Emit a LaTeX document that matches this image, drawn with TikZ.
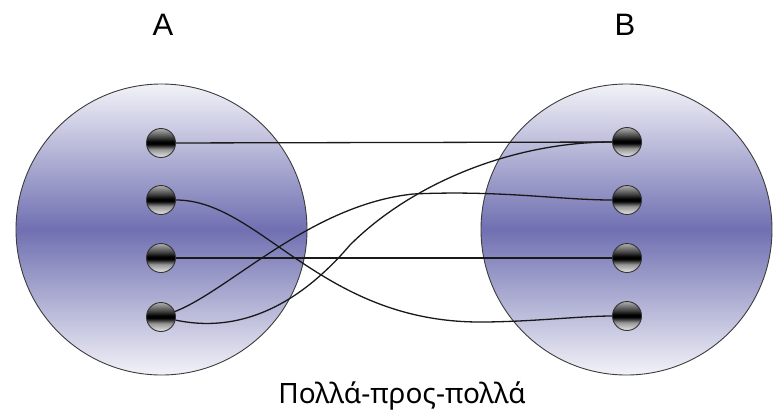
\documentclass[tikz,border=0pt]{standalone}
\usepackage{fontspec}
\setmainfont{Liberation Sans}
\newfontfamily\greekfont{Noto Sans}
\definecolor{setlight}{HTML}{F2F2F8}
\definecolor{setmid}{HTML}{7070B2}
\definecolor{dotbot}{HTML}{E8E8E8}
\definecolor{dotlow}{HTML}{959595}
\definecolor{dotup}{HTML}{4A4A4A}
\definecolor{dottop}{HTML}{B0B0B0}
\definecolor{rimcol}{HTML}{3C3C3C}
\pgfdeclareverticalshading{setshade}{100bp}{color(0bp)=(setlight); color(25bp)=(setlight); color(50bp)=(setmid); color(75bp)=(setlight); color(100bp)=(setlight)}
\pgfdeclareverticalshading{dotshade}{100bp}{color(0bp)=(dotbot); color(25bp)=(dotbot); color(39bp)=(dotlow); color(48bp)=(black); color(52bp)=(black); color(61bp)=(dotup); color(75bp)=(dottop); color(100bp)=(dottop)}
\begin{document}
\begin{tikzpicture}[x=1pt,y=-1pt,
  bigset/.style={circle,draw=rimcol,line width=0.9pt,shading=setshade,minimum size=291pt,inner sep=0pt},
  elem/.style={circle,draw=black!80,line width=0.9pt,shading=dotshade,minimum size=29pt,inner sep=0pt},
  link/.style={draw=black!90,line width=1.3pt},
  setlabel/.style={font=\fontsize{31}{36}\selectfont,anchor=base},
  caption/.style={font=\greekfont\fontsize{28}{34}\selectfont,anchor=base}]
\useasboundingbox (0,0) rectangle (773,416);
\node[bigset] (SA) at (161.5,229.5) {};
\node[bigset] (SB) at (626.5,229.5) {};
\node[setlabel] (LA) at (163,35) {A};
\node[setlabel] (LB) at (625,35) {B};
\node[caption] (cap) at (402,403) {Πολλά-προς-πολλά};
\foreach \i/\y in {1/143,2/200,3/258,4/317}{
  \node[elem] (L\i) at (161,\y) {};
}
\foreach \i/\y in {1/142,2/200,3/258,4/316}{
  \node[elem] (R\i) at (627,\y) {};
}
\draw[link] (L1) -- (R1);
\draw[link] (L3) -- (R3);
\coordinate (m24) at (480,322);
\draw[link] (L2) .. controls (260,200) and (320,322) .. (m24)
  .. controls (530,322) and (580,316) .. (R4);
\coordinate (m41) at (350,245);
\draw[link] (L4) .. controls (260,338) and (320,280) .. (m41)
  .. controls (410,185) and (510,142) .. (R1);
\coordinate (m42) at (413,194);
\draw[link] (L4) .. controls (230,290) and (310,205) .. (m42)
  .. controls (500,190) and (560,200) .. (R2);
\end{tikzpicture}
\end{document}
